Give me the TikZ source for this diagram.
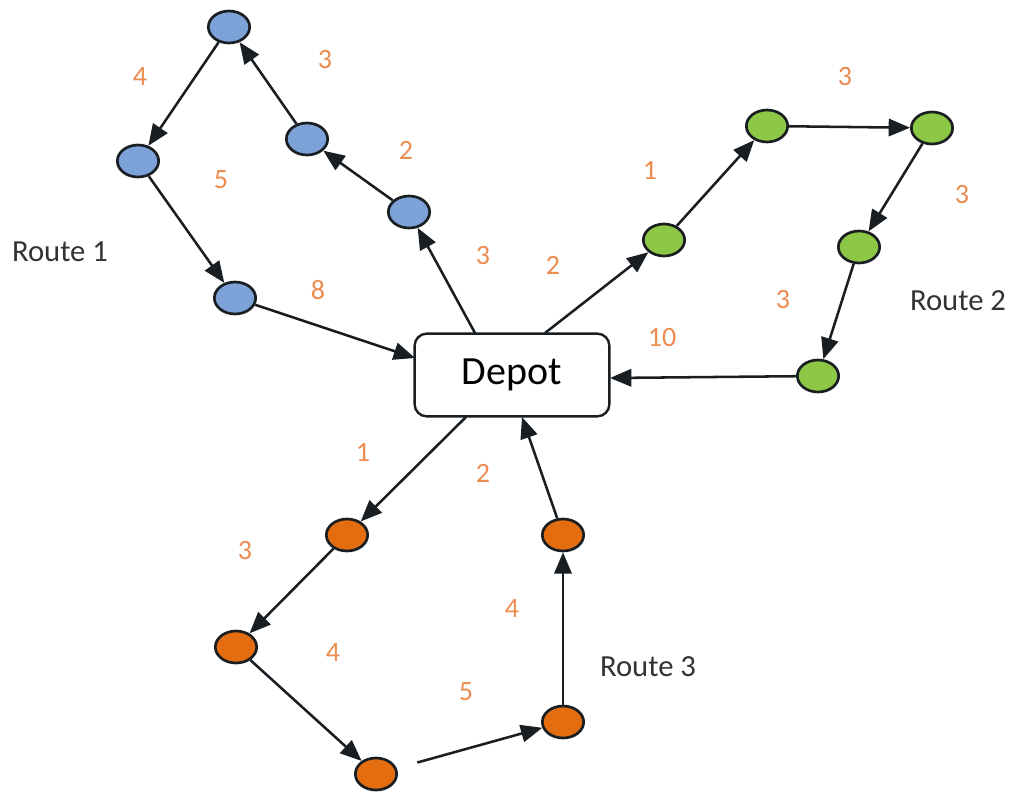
\documentclass[tikz,border=0pt]{standalone}
\usepackage{fontspec}
\setmainfont{Carlito}
\usetikzlibrary{arrows.meta,shapes.geometric}
\definecolor{bluefill}{RGB}{125,162,215}
\definecolor{greenfill}{RGB}{140,200,70}
\definecolor{orangefill}{RGB}{228,110,15}
\definecolor{numcol}{RGB}{236,140,80}
\definecolor{edgecol}{RGB}{25,30,35}
\tikzset{
  stop/.style={ellipse, draw=edgecol, line width=2pt, minimum width=31pt, minimum height=24pt, inner sep=0pt},
  bstop/.style={stop, fill=bluefill},
  gstop/.style={stop, fill=greenfill},
  ostop/.style={stop, fill=orangefill},
  link/.style={draw=edgecol, line width=1.9pt, -{Triangle[length=16pt,width=13pt]}},
  num/.style={text=numcol, font=\fontsize{21}{21}\selectfont},
  routelbl/.style={text=black!80, font=\fontsize{23}{23}\selectfont},
  depotbox/.style={draw=edgecol, line width=1.8pt, rounded corners=9pt, minimum width=146pt, minimum height=62pt, font=\fontsize{30}{30}\selectfont, fill=white}
}
\begin{document}
\begin{tikzpicture}[x=0.75pt,y=-0.75pt]
\useasboundingbox (0,0) rectangle (1013,793);
% depot
\node[depotbox] (D) at (512,375) {Depot};
% blue
\node[bstop] (b1) at (229,27) {};
\node[bstop] (b2) at (138,161) {};
\node[bstop] (b3) at (307,139) {};
\node[bstop] (b4) at (409,212) {};
\node[bstop] (b5) at (235,298) {};
% green
\node[gstop] (g1) at (664,240) {};
\node[gstop] (g2) at (767,126) {};
\node[gstop] (g3) at (932,128) {};
\node[gstop] (g4) at (859,247) {};
\node[gstop] (g5) at (818,376) {};
% orange
\node[ostop] (o1) at (347,535) {};
\node[ostop] (o2) at (236,647) {};
\node[ostop] (o3) at (376,774) {};
\node[ostop] (o4) at (563,722) {};
\node[ostop] (o5) at (563,535) {};
% connection points on the depot
\coordinate (d1) at (475,333);
\coordinate (d2) at (545,333);
\coordinate (d3) at (466,417);
\coordinate (d4) at (522,417);
\coordinate (d5) at (415,358);
\coordinate (d6) at (610,378);
% route 1 edges
\draw[link] (d1) -- (b4);
\draw[link] (b4) -- (b3);
\draw[link] (b3) -- (b1);
\draw[link] (b1) -- (b2);
\draw[link] (b2) -- (b5);
\draw[link] (b5) -- (d5);
% route 2 edges
\draw[link] (d2) -- (g1);
\draw[link] (g1) -- (g2);
\draw[link] (g2) -- (g3);
\draw[link] (g3) -- (g4);
\draw[link] (g4) -- (g5);
\draw[link] (g5) -- (d6);
% route 3 edges
\draw[link] (d3) -- (o1);
\draw[link] (o1) -- (o2);
\draw[link] (o2) -- (o3);
\draw[link, shorten <=16pt] (o3) -- (o4);
\draw[link] (o4) -- (o5);
\draw[link] (o5) -- (d4);
% weights
\node[num] (w1) at (140,77) {4};
\node[num] (w2) at (325,60) {3};
\node[num] (w3) at (221,180) {5};
\node[num] (w4) at (406,150) {2};
\node[num] (w5) at (318,290) {8};
\node[num] (w6) at (483,256) {3};
\node[num] (w7) at (553,265) {2};
\node[num] (w8) at (650,170) {1};
\node[num] (w9) at (845,77) {3};
\node[num] (w10) at (962,195) {3};
\node[num] (w11) at (783,300) {3};
\node[num] (w12) at (662,338) {10};
\node[num] (w13) at (363,452) {1};
\node[num] (w14) at (483,473) {2};
\node[num] (w15) at (245,551) {3};
\node[num] (w16) at (333,652) {4};
\node[num] (w17) at (512,608) {4};
\node[num] (w18) at (466,692) {5};
% route labels
\node[routelbl] (r1) at (60,252) {Route 1};
\node[routelbl] (r2) at (958,301) {Route 2};
\node[routelbl] (r3) at (648,667) {Route 3};
\end{tikzpicture}
\end{document}
